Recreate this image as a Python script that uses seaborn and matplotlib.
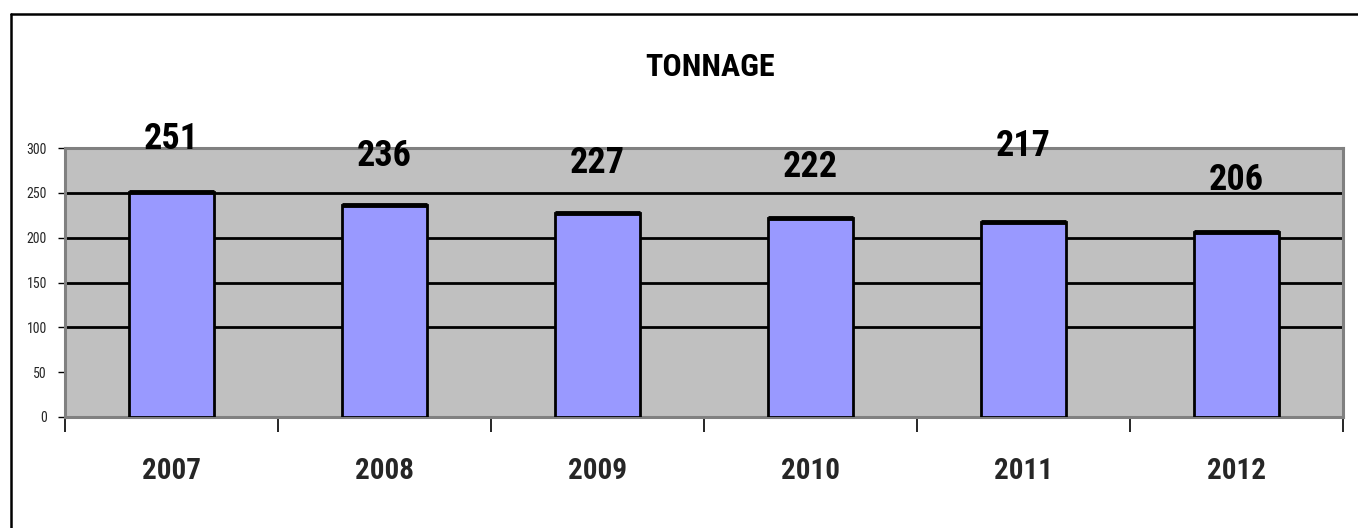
import matplotlib
matplotlib.use("Agg")
import matplotlib.pyplot as plt
from matplotlib import font_manager
from matplotlib.lines import Line2D
from matplotlib.ticker import FixedLocator
import seaborn as sns
import pandas as pd

# ---- data ----
years = ["2007", "2008", "2009", "2010", "2011", "2012"]
tonnage = [251, 236, 227, 222, 217, 206]
y_ticks = [0, 50, 100, 150, 200, 250, 300]
title = "TONNAGE"

df = pd.DataFrame({"year": years, "tonnage": tonnage})

sns.set_theme(style="white")
names = {f.name for f in font_manager.fontManager.ttflist}
fam = "Liberation Sans"
for cand in ["Liberation Sans Narrow", "Roboto Condensed", "Open Sans Condensed"]:
    if cand in names:
        fam = cand
        break
plt.rcParams["font.family"] = [fam, "DejaVu Sans"]

fig = plt.figure(figsize=(13.58, 5.28), dpi=100)
fig.patch.set_facecolor("white")
ax = fig.add_axes([65 / 1358, 111 / 528, (1343 - 65) / 1358, (417 - 148) / 528])
ax.set_facecolor("#C0C0C0")

sns.barplot(data=df, x="year", y="tonnage", ax=ax, color="#9999FF",
            saturation=1, width=0.4, edgecolor="black", linewidth=2, zorder=3)

# thicker top edges on bars (Excel look)
for i, v in enumerate(tonnage):
    ax.hlines(v, i - 0.2, i + 0.2, color="black", linewidth=3.5, zorder=4)

ax.set_xlim(-0.5, len(years) - 0.5)
ax.set_ylim(0, 300)

# gridlines
for g in [100, 150, 200, 250]:
    ax.axhline(g, color="black", linewidth=2, zorder=1)

for s in ax.spines.values():
    s.set_color("#808080")
    s.set_linewidth(2.2)

ax.set_yticks(y_ticks)
ax.set_yticklabels([str(t) for t in y_ticks], fontsize=10)
ax.tick_params(axis="y", direction="out", length=5, width=1, color="black",
               left=True, pad=8)
ax.tick_params(axis="x", which="major", length=0, pad=29, labelsize=21)
for lbl in ax.get_xticklabels():
    lbl.set_fontweight("bold")
ax.xaxis.set_minor_locator(FixedLocator([i - 0.5 for i in range(len(years) + 1)]))
ax.tick_params(axis="x", which="minor", direction="out", length=11, width=1.2,
               color="black", bottom=True)
ax.set_xlabel("")
ax.set_ylabel("")

# value labels (positions as in the reference)
label_y = [310, 291, 283, 279, 302, 264]
for i, v in enumerate(tonnage):
    ax.text(i, label_y[i], str(v), ha="center", va="center", fontsize=26,
            fontweight="bold", color="black", zorder=5, clip_on=False)

fig.text(710 / 1358, 1 - 67 / 528, title, ha="center", va="center",
         fontsize=23, fontweight="bold", color="black")

# outer chart border (left and top)
fig.add_artist(Line2D([11 / 1358, 11 / 1358], [0, 1 - 14 / 528],
                      transform=fig.transFigure, color="black", linewidth=1.8))
fig.add_artist(Line2D([11 / 1358, 1], [1 - 14 / 528, 1 - 14 / 528],
                      transform=fig.transFigure, color="black", linewidth=1.8))

fig.savefig("out.png", dpi=100)
